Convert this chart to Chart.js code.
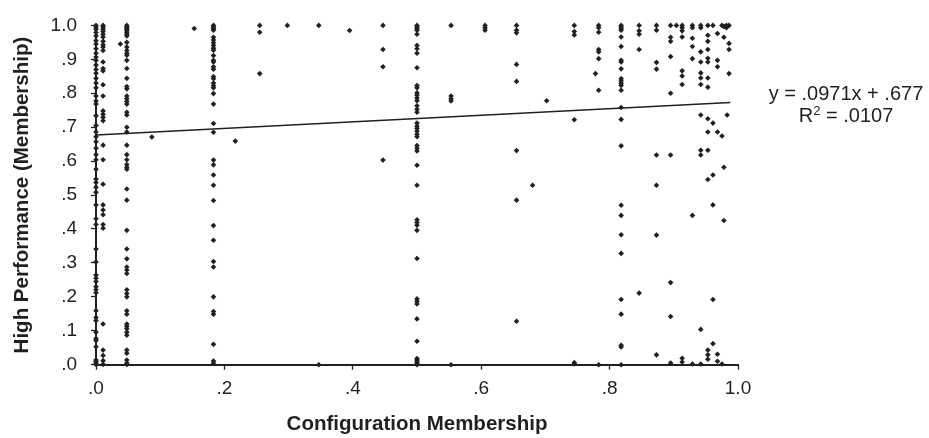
<!DOCTYPE html>
<html lang="en">
<head>
<meta charset="UTF-8">
<title>Configuration Membership vs High Performance</title>
<script src="https://cdn.jsdelivr.net/npm/chart.js@4.4.1/dist/chart.umd.min.js"></script>
<style>
  body { margin: 0; background: #fff; }
  .wrap { position: relative; width: 929px; height: 438px; }
  .eq {
    position: absolute; left: 746px; top: 82px; width: 200px;
    text-align: center; color: #231f20;
    font: 20px "Liberation Sans", Arial, sans-serif; line-height: 22px;
  }
  .eq sup { font-size: 13px; line-height: 0; vertical-align: 7px; }
</style>
</head>
<body>
<div class="wrap">
  <canvas id="chart" width="929" height="438"></canvas>
  <div class="eq">y = .0971x + .677<br>R<sup>2</sup> = .0107</div>
</div>

<script>
// x positions of the dense columns
const denseX = [0, 0.011, 0.048, 0.183, 0.5, 0.818]

const yCol000 = [1.0, .995, .989, .979, .969, .955, .945, .931, .918, .907, .897, .883, .870, .859, .844, .830, .816,
  .792, .777, .768, .734, .705, .686, .672, .657, .638, .619, .604, .576, .547, .537, .523, .508, .471, .430, .413,
  .341, .303, .264, .255, .245, .230, .221, .212, .159, .139, .130, .096, .077, .071, .053, .014, .010, .005, .001]
const yCol011 = [1.0, .995, .989, .982, .974, .966, .953, .943, .936, .926, .892, .873, .866, .825, .792, .748, .738,
  .729, .719, .647, .604, .532, .471, .456, .442, .413, .402, .120, .043, .027, .012, .001]
const yCol048 = [1.0, .995, .993, .989, .984, .979, .974, .969, .950, .936, .926, .918, .912, .897, .873, .844, .820,
  .813, .792, .784, .776, .768, .744, .736, .700, .686, .647, .619, .604, .590, .582, .576, .518, .485, .396, .341,
  .312, .288, .279, .269, .221, .210, .200, .159, .149, .120, .113, .106, .096, .087, .043, .034, .014, .005, .001]
const yCol183 = [1.0, .995, .990, .986, .965, .957, .949, .941, .933, .927, .911, .897, .892, .878, .871, .849, .843,
  .830, .822, .816, .799, .768, .711, .685, .603, .589, .559, .529, .484, .410, .367, .304, .288, .200, .157, .149,
  .060, .011, .004]
const yCol500 = [1.0, .995, .990, .986, .974, .941, .931, .918, .875, .823, .816, .801, .794, .786, .778, .763, .753,
  .744, .712, .703, .696, .688, .679, .672, .646, .638, .630, .588, .529, .427, .419, .411, .396, .313, .194, .186,
  .179, .135, .069, .018, .014, .009, .004, 0]
const yCol818 = [1.0, .995, .990, .986, .966, .938, .897, .892, .872, .843, .836, .829, .823, .809, .758, .723, .645,
  .470, .440, .383, .328, .192, .149, .057, .052, 0]

// sparser points, grouped by x
const looseX = [0.038, 0.087, 0.153, 0.217, 0.255, 0.298, 0.347, 0.395, 0.447, 0.553, 0.606, 0.655, 0.68, 0.702,
  0.745, 0.778, 0.783, 0.846, 0.873, 0.895, 0.904, 0.913, 0.929, 0.942, 0.953, 0.961, 0.968, 0.975, 0.978, 0.982,
  0.983, 0.986]
const looseY = [
  [.945], [.671], [.991], [.659], [1.0, .980, .858], [1.0], [1.0, 0], [.985], [1.0, .929, .878, .603],
  [1.0, .792, .784, .777, 0], [1.0, .993, .986], [1.0, .986, .978, .885, .835, .631, .485, .128], [.529], [.778],
  [1.0, .982, .972, .722, .006, .002], [.858], [1.0, .993, .980, .929, .922, .902, .809, 0],
  [1.0, .984, .974, .929, .211],
  [1.0, .986, .891, .871, .618, .529, .382, .029],
  [1.0, .965, .953, .908, .800, .618, .242, .142, .005],
  [1.0],
  [1.0, .993, .984, .966, .866, .851, .826, .019, .008],
  [1.0, .993, .962, .938, .902, .440, .002],
  [1.0, .993, .922, .892, .860, .845, .826, .736, .632, .618, .104, .002],
  [1.0, .971, .953, .929, .903, .892, .845, .818, .725, .686, .632, .546, .043, .029, .016],
  [1.0, .712, .559, .471, .192, .062],
  [.976, .897, .878, .686, .031, .010],
  [1.0, .674, .002],
  [.997, .965, .582, .425],
  [1.0, .993],
  [.736],
  [1.0, .947, .929, .858]
]

// linear fit shown on the chart
const slope = 0.0971
const intercept = 0.677
const trendEnd = 0.988

const ink = '#231f20'
Chart.defaults.font.family = '"Liberation Sans", Arial, sans-serif'
Chart.defaults.color = ink

const points = []
const denseY = [yCol000, yCol011, yCol048, yCol183, yCol500, yCol818]
denseX.forEach((x, i) => denseY[i].forEach(y => points.push({ x: x, y: y })))
looseX.forEach((x, i) => looseY[i].forEach(y => points.push({ x: x, y: y })))

function fmt (v) {
  if (v >= 0.999) return '1.0'
  return '.' + Math.round(v * 10)
}

new Chart('chart', {
  type: 'scatter',
  data: {
    datasets: [{
      data: points,
      pointStyle: 'rectRot',
      pointRadius: 2.8,
      pointHoverRadius: 2.8,
      backgroundColor: ink,
      borderWidth: 0,
      clip: false
    }, {
      type: 'line',
      data: [{ x: 0, y: intercept }, { x: trendEnd, y: slope * trendEnd + intercept }],
      borderColor: ink,
      borderWidth: 1.4,
      pointRadius: 0,
      fill: false
    }]
  },
  options: {
    responsive: false,
    animation: false,
    layout: { padding: { left: 0, right: 191, top: 17.7, bottom: 0 } },
    plugins: { legend: { display: false }, tooltip: { enabled: false } },
    scales: {
      x: {
        type: 'linear', min: 0, max: 1,
        ticks: { stepSize: 0.2, callback: fmt, font: { size: 19 }, padding: 8, color: ink },
        grid: { drawOnChartArea: false, tickLength: 5, color: ink, tickWidth: 1.3 },
        border: { color: ink, width: 2 },
        title: { display: true, text: 'Configuration Membership', font: { size: 20.5, weight: 'bold' }, padding: { top: 0, bottom: 1 }, color: ink },
        afterFit: s => { s.height = 73.3 }
      },
      y: {
        min: 0, max: 1,
        ticks: { stepSize: 0.1, callback: fmt, font: { size: 19 }, padding: 14, color: ink },
        grid: { drawOnChartArea: false, tickLength: 5, color: ink, tickWidth: 1.3 },
        border: { color: ink, width: 2 },
        title: { display: true, text: 'High Performance (Membership)', font: { size: 20.5, weight: 'bold' }, padding: { top: 10, bottom: 0 }, color: ink },
        afterFit: s => { s.width = 96 }
      }
    }
  }
})
</script>
</body>
</html>
